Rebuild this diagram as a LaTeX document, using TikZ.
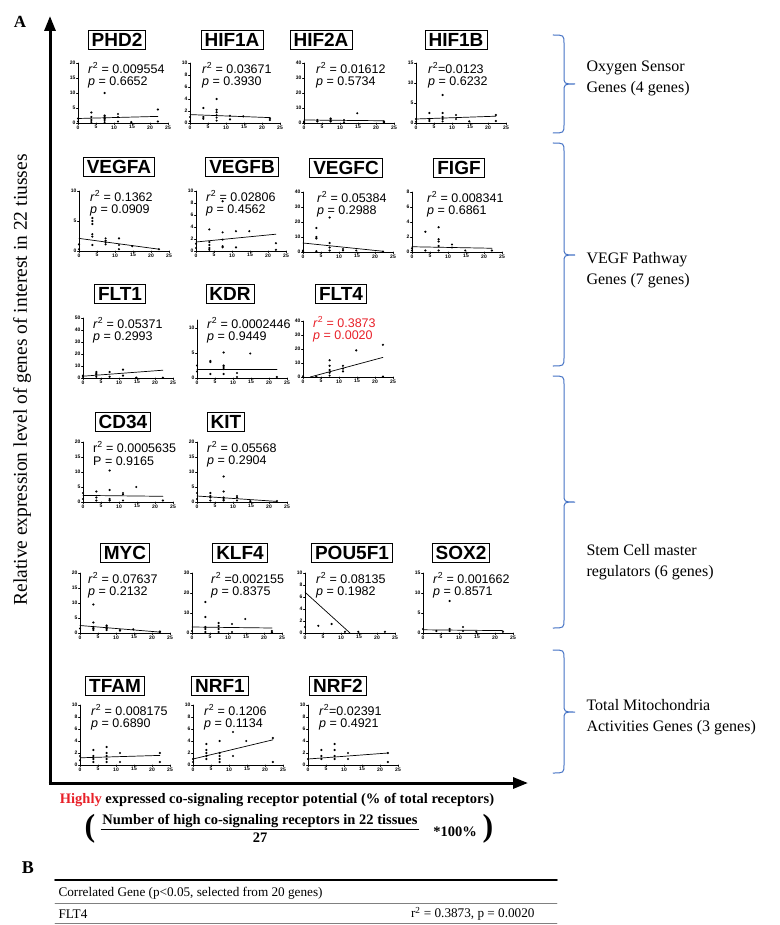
\documentclass[tikz,border=0pt]{standalone}
\usepackage{fontspec}
\setmainfont{Liberation Serif}
\newfontfamily\arial{Liberation Sans}
\usepackage{xcolor}
\definecolor{hired}{RGB}{232,32,40}
\definecolor{brblue}{RGB}{68,114,196}
\usepackage{tikz}
\usetikzlibrary{arrows.meta}

% axes of one small scatter plot: #1 top of y axis, #2 y ticks
\newcommand{\plotframe}[2]{%
  \draw[plotaxis] (0,#1) -- (0,0) -- (25,0);
  \foreach \t in {0,5,...,25} \draw[plotaxis] (\t,0) -- ++(0,-1.5pt) node[ticklab,below] (xt\t) {\t};
  \foreach \t in #2 \draw[plotaxis] (0,\t) -- ++(-1.5pt,0) node[ticklab,left] (yt\t) {\t};
}
\newcommand{\pts}[1]{\foreach \u/\v in {#1} \fill (\u,\v) circle (1.2pt);}
% curly bracket on the right: top, tip, bottom
\newcommand{\gbrace}[3]{%
  \draw[gbr] (553,#1) .. controls (564,#1) .. (564,#1+9) -- (564,#2-8)
    .. controls (564,#2) .. (575,#2) .. controls (564,#2) .. (564,#2+8)
    -- (564,#3-9) .. controls (564,#3) .. (553,#3);
}

\begin{document}
\begin{tikzpicture}[x=1pt,y=-1pt,line cap=round]
	\tikzstyle{genebox}=[draw,line width=0.8pt,inner xsep=3.5pt,inner ysep=3pt,text height=13.5pt,text depth=0pt,font=\arial\bfseries\fontsize{19}{19}\selectfont];
	\tikzstyle{stat}=[anchor=west,inner sep=0pt,font=\arial\fontsize{12.5}{14}\selectfont];
	\tikzstyle{ticklab}=[inner sep=0.6pt,font=\arial\bfseries\fontsize{5}{5}\selectfont];
	\tikzstyle{plotaxis}=[line width=0.9pt];
	\tikzstyle{fitline}=[line width=0.7pt];
	\tikzstyle{gbr}=[brblue,line width=1pt];
	\tikzstyle{bracelab}=[anchor=west,align=left,font=\fontsize{16}{21}\selectfont];
	\tikzstyle{bigaxis}=[line width=3pt,line cap=butt,-{Triangle[length=15pt,width=11pt]}];
	\tikzstyle{formula}=[font=\bfseries\fontsize{14.5}{15}\selectfont];
	\tikzstyle{tabtxt}=[font=\fontsize{13.2}{14}\selectfont];
	\useasboundingbox (0,0) rectangle (779,925);

	\node[font=\bfseries\fontsize{17}{17}\selectfont] (lblA) at (20,22) {A};
	\coordinate (orig) at (50,783);
	\coordinate (ytip) at (50,16);
	\coordinate (xtip) at (528,783);
	\draw[bigaxis] ([yshift=-1.5pt]orig) -- (ytip);
	\draw[bigaxis] ([xshift=-1.5pt]orig) -- (xtip);
	\node[rotate=90,font=\fontsize{19.5}{19.5}\selectfont] (ylab) at (22,380) {Relative expression level of genes of interest in 22 tiusses};

	% row 1: oxygen sensors
	\begin{scope}[shift={(78pt,-123pt)},x=3.6pt,y=3pt]
		\plotframe{20}{{0,5,...,20}}
		\pts{0/0.5,0/1.5,3.7/3.5,3.7/2,3.7/1,3.7/0.3,7.4/10,7.4/2.5,7.4/2,7.4/1.5,7.4/1,7.4/0.3,11.1/3,11.1/2,11.1/0.5,14.8/0.3,22.2/4.5,22.2/0.5}
		\draw[fitline] (0,1.5) -- (22.2,2.2);
	\end{scope}
	\node[genebox] (phd2) at (117,40) {PHD2};
	\node[stat] (phd2r) at (88,68) {\textit{r}\textsuperscript{2} = 0.009554};
	\node[stat] (phd2p) at (88,82) {\textit{p} = 0.6652};

	\begin{scope}[shift={(190pt,-123pt)},x=3.6pt,y=6pt]
		\plotframe{10}{{0,2,...,10}}
		\pts{0/1,0/0.3,3.7/2.5,3.7/1,3.7/0.7,7.4/4,7.4/2.2,7.4/1.8,7.4/1.3,7.4/0.9,7.4/0.4,11.1/1.2,11.1/0.6,14.8/1.1,22.2/0.8,22.2/0.5}
		\draw[fitline] (0,1.4) -- (22.2,0.9);
	\end{scope}
	\node[genebox] (hif1a) at (232,40) {HIF1A};
	\node[stat] (hif1ar) at (202,68) {\textit{r}\textsuperscript{2} = 0.03671};
	\node[stat] (hif1ap) at (202,82) {\textit{p} = 0.3930};

	\begin{scope}[shift={(304pt,-123pt)},x=3.6pt,y=1.5pt]
		\plotframe{40}{{0,10,...,40}}
		\pts{0/1,0/0.3,3.7/2,3.7/1,7.4/3,7.4/2,7.4/1,11.1/2,11.1/0.5,14.8/6.5,22.2/1,22.2/0.3}
		\draw[fitline] (0,2) -- (22.2,1.5);
	\end{scope}
	\node[genebox] (hif2a) at (321,40) {HIF2A};
	\node[stat] (hif2ar) at (316,68) {\textit{r}\textsuperscript{2} = 0.01612};
	\node[stat] (hif2ap) at (316,82) {\textit{p} = 0.5734};

	\begin{scope}[shift={(416pt,-123pt)},x=3.6pt,y=4pt]
		\plotframe{15}{{0,5,10,15}}
		\pts{0/1,0/0.3,3.7/2.5,3.7/1,3.7/0.5,7.4/7,7.4/2.5,7.4/1.5,7.4/1,7.4/0.4,11.1/2,11.1/1,14.8/0.4,22.2/2,22.2/0.5}
		\draw[fitline] (0,1) -- (22.2,1.7);
	\end{scope}
	\node[genebox] (hif1b) at (456,40) {HIF1B};
	\node[stat] (hif1br) at (428,68) {\textit{r}\textsuperscript{2}=0.0123};
	\node[stat] (hif1bp) at (428,82) {\textit{p} = 0.6232};

	% row 2: VEGF pathway
	\begin{scope}[shift={(79pt,-251pt)},x=3.6pt,y=6pt]
		\plotframe{10}{{0,5,10}}
		\pts{0/1.1,0/0.3,3.7/5.5,3.7/5,3.7/4.5,3.7/2.8,3.7/2.4,3.7/1,7.4/2.1,7.4/1.7,7.4/1.4,7.4/1.1,11.1/2.1,11.1/1,11.1/0.3,14.8/0.8,22.2/0.3}
		\draw[fitline] (0,2.1) -- (22.2,0.3);
	\end{scope}
	\node[genebox] (vegfa) at (119,167) {VEGFA};
	\node[stat] (vegfar) at (90,196) {\textit{r}\textsuperscript{2} = 0.1362};
	\node[stat] (vegfap) at (90,210) {\textit{p} = 0.0909};

	\begin{scope}[shift={(196pt,-251pt)},x=3.6pt,y=6pt]
		\plotframe{10}{{0,2,...,10}}
		\pts{0/1.2,0/0.5,3.7/3.6,3.7/1.5,3.7/1,3.7/0.5,3.7/0.2,7.4/8.3,7.4/3.1,7.4/1.9,7.4/0.8,7.4/0.6,11.1/3.3,11.1/0.6,14.8/3.3,22.2/1.3,22.2/0.2}
		\draw[fitline] (0,1.5) -- (22.2,2.8);
	\end{scope}
	\node[genebox] (vegfb) at (242,167) {VEGFB};
	\node[stat] (vegfbr) at (206,196) {\textit{r}\textsuperscript{2} = 0.02806};
	\node[stat] (vegfbp) at (206,210) {\textit{p} = 0.4562};

	\begin{scope}[shift={(303pt,-252pt)},x=3.6pt,y=1.5pt]
		\plotframe{40}{{0,10,...,40}}
		\pts{0/1,0/0.3,3.7/16,3.7/10,3.7/9,3.7/0.5,7.4/23,7.4/6,7.4/3,7.4/1,11.1/2,11.1/1,14.8/1,22.2/0.3}
		\draw[fitline] (0,6) -- (22.2,0.5);
	\end{scope}
	\node[genebox] (vegfc) at (346,168) {VEGFC};
	\node[stat] (vegfcr) at (317,197) {\textit{r}\textsuperscript{2} = 0.05384};
	\node[stat] (vegfcp) at (317,211) {\textit{p} = 0.2988};

	\begin{scope}[shift={(412pt,-252pt)},x=3.6pt,y=7.5pt]
		\plotframe{8}{{0,2,...,8}}
		\pts{0/0.5,0/0.2,3.7/2.7,3.7/0.2,7.4/3.3,7.4/1.7,7.4/1.4,7.4/0.8,7.4/0.2,11.1/1,11.1/0.6,14.8/0.2,22.2/0.2}
		\draw[fitline] (0,0.7) -- (22.2,0.5);
	\end{scope}
	\node[genebox] (figf) at (459,168) {FIGF};
	\node[stat] (figfr) at (427,197) {\textit{r}\textsuperscript{2} = 0.008341};
	\node[stat] (figfp) at (427,211) {\textit{p} = 0.6861};

	\begin{scope}[shift={(83pt,-378pt)},x=3.6pt,y=1.2pt]
		\plotframe{50}{{0,10,...,50}}
		\pts{0/2,0/1,3.7/5,3.7/4,3.7/3,3.7/1,7.4/5,7.4/1,11.1/7,11.1/2,14.8/0.3,22.2/0.3}
		\draw[fitline] (0,1.5) -- (22.2,6.5);
	\end{scope}
	\node[genebox] (flt1) at (120,294) {FLT1};
	\node[stat] (flt1r) at (93,323) {\textit{r}\textsuperscript{2} = 0.05371};
	\node[stat] (flt1p) at (93,337) {\textit{p} = 0.2993};

	\begin{scope}[shift={(197pt,-378pt)},x=3.6pt,y=5pt]
		\plotframe{11.6}{{0,5,10}}
		\pts{0/2.5,0/1.3,3.7/3.4,3.7/3.2,3.7/0.8,7.4/5.1,7.4/2.5,7.4/2.2,7.4/1.8,7.4/0.8,11.1/1,11.1/0.2,14.8/4.9,22.2/0.2}
		\draw[fitline] (0,1.8) -- (22.2,1.8);
	\end{scope}
	\node[genebox] (kdr) at (230,294) {KDR};
	\node[stat] (kdrr) at (207,323) {\textit{r}\textsuperscript{2} = 0.0002446};
	\node[stat] (kdrp) at (207,337) {\textit{p} = 0.9449};

	\begin{scope}[shift={(303pt,-377pt)},x=3.6pt,y=1.4pt]
		\plotframe{40}{{0,10,...,40}}
		\pts{0/0.5,3.7/0.3,7.4/12,7.4/8,7.4/5,7.4/3,7.4/1,11.1/8,11.1/6,11.1/4,14.8/19,22.2/23,22.2/0.3}
		\draw[fitline] (2,0) -- (22.2,14);
	\end{scope}
	\node[genebox] (flt4) at (341,294) {FLT4};
	\node[stat,hired] (flt4r) at (313,322) {\textit{r}\textsuperscript{2} = 0.3873};
	\node[stat,hired] (flt4p) at (313,336) {\textit{p} = 0.0020};

	% row 4: stem cell regulators
	\begin{scope}[shift={(83pt,-502pt)},x=3.6pt,y=3pt]
		\plotframe{20}{{0,5,...,20}}
		\pts{0/3,0/1,3.7/3.5,3.7/1.5,3.7/0.5,7.4/10.5,7.4/4,7.4/1,7.4/0.5,11.1/3,11.1/2.5,11.1/0.5,14.8/5,22.2/0.5}
		\draw[fitline] (0,2.2) -- (22.2,1.9);
	\end{scope}
	\node[genebox] (cd34) at (123,422) {CD34};
	\node[stat] (cd34r) at (93,447) {r\textsuperscript{2} = 0.0005635};
	\node[stat] (cd34p) at (93,461) {P = 0.9165};

	\begin{scope}[shift={(197pt,-502pt)},x=3.6pt,y=3pt]
		\plotframe{20}{{0,5,...,20}}
		\pts{0/3,0/1,3.7/3,3.7/2,3.7/1.5,3.7/0.5,7.4/8.5,7.4/3.5,7.4/1.5,7.4/1,7.4/0.5,11.1/2,11.1/1.5,11.1/0.5,14.8/0.3,22.2/0.3}
		\draw[fitline] (0,2) -- (22.2,0.2);
	\end{scope}
	\node[genebox] (kit) at (226,422) {KIT};
	\node[stat] (kitr) at (207,447) {\textit{r}\textsuperscript{2} = 0.05568};
	\node[stat] (kitp) at (207,461) {\textit{p} = 0.2904};

	\begin{scope}[shift={(80pt,-633pt)},x=3.6pt,y=3pt]
		\plotframe{20}{{0,5,...,20}}
		\pts{0/1.5,3.7/9.5,3.7/3.5,3.7/2,3.7/1.5,3.7/1,7.4/2.5,7.4/2,7.4/1.5,7.4/1,11.1/1,11.1/0.8,14.8/1.2,22.2/0.5,22.2/0.3}
		\draw[fitline] (0,2.5) -- (22.2,0.3);
	\end{scope}
	\node[genebox] (myc) at (125,553) {MYC};
	\node[stat] (mycr) at (88,578) {\textit{r}\textsuperscript{2} = 0.07637};
	\node[stat] (mycp) at (88,592) {\textit{p} = 0.2132};

	\begin{scope}[shift={(192pt,-633pt)},x=3.6pt,y=2pt]
		\plotframe{30}{{0,10,20,30}}
		\pts{0/1,3.7/15.5,3.7/8,3.7/3,3.7/2,3.7/0.5,7.4/5,7.4/3.5,7.4/2,7.4/0.5,11.1/4.5,11.1/0.5,14.8/7,22.2/1,22.2/0.3}
		\draw[fitline] (0,3) -- (22.2,2.5);
	\end{scope}
	\node[genebox] (klf4) at (240,553) {KLF4};
	\node[stat] (klf4r) at (211,578) {\textit{r}\textsuperscript{2} =0.002155};
	\node[stat] (klf4p) at (211,592) {\textit{p} = 0.8375};

	\begin{scope}[shift={(305pt,-633pt)},x=3.6pt,y=6pt]
		\plotframe{10}{{0,2,...,10}}
		\pts{0/1,3.7/1.2,7.4/1.5,11.1/0.2,14.8/0.2,22.2/0.2}
		\draw[fitline] (0,6.8) -- (12.5,0);
	\end{scope}
	\node[genebox] (pou5f1) at (352,553) {POU5F1};
	\node[stat] (pou5f1r) at (316,578) {\textit{r}\textsuperscript{2} = 0.08135};
	\node[stat] (pou5f1p) at (316,592) {\textit{p} = 0.1982};

	\begin{scope}[shift={(423pt,-633pt)},x=3.6pt,y=4pt]
		\plotframe{15}{{0,5,10,15}}
		\pts{0/1,3.7/0.5,7.4/8,7.4/1,7.4/0.5,11.1/1.5,11.1/0.5,14.8/0.3,22.2/0.3}
		\draw[fitline] (0,0.8) -- (22.2,0.6);
	\end{scope}
	\node[genebox] (sox2) at (461,553) {SOX2};
	\node[stat] (sox2r) at (433,578) {\textit{r}\textsuperscript{2} = 0.001662};
	\node[stat] (sox2p) at (433,592) {\textit{p} = 0.8571};

	% row 6: mitochondria
	\begin{scope}[shift={(80pt,-765pt)},x=3.6pt,y=6pt]
		\plotframe{10}{{0,2,...,10}}
		\pts{0/1.5,0/0.8,3.7/2.5,3.7/1.5,3.7/1,3.7/0.5,7.4/3,7.4/2,7.4/1.5,7.4/1,7.4/0.5,11.1/2,11.1/0.5,22.2/2,22.2/0.5}
		\draw[fitline] (0,1.2) -- (22.2,1.6);
	\end{scope}
	\node[genebox] (tfam) at (115,686) {TFAM};
	\node[stat] (tfamr) at (91,710) {\textit{r}\textsuperscript{2} = 0.008175};
	\node[stat] (tfamp) at (91,724) {\textit{p} = 0.6890};

	\begin{scope}[shift={(193pt,-765pt)},x=3.6pt,y=6pt]
		\plotframe{10}{{0,2,...,10}}
		\pts{0/1,0/0.5,3.7/3.5,3.7/2.5,3.7/2,3.7/1.5,3.7/1,7.4/4,7.4/2,7.4/1.5,7.4/1,7.4/0.5,11.1/5.5,11.1/1.5,14.8/4,22.2/4.5,22.2/0.5}
		\draw[fitline] (0,1) -- (22.2,4.2);
	\end{scope}
	\node[genebox] (nrf1) at (220,686) {NRF1};
	\node[stat] (nrf1r) at (204,710) {\textit{r}\textsuperscript{2} = 0.1206};
	\node[stat] (nrf1p) at (204,724) {\textit{p} = 0.1134};

	\begin{scope}[shift={(308pt,-765pt)},x=3.6pt,y=6pt]
		\plotframe{10}{{0,2,...,10}}
		\pts{0/1,3.7/2.5,3.7/1.5,3.7/1,7.4/3.5,7.4/2.5,7.4/1.5,7.4/1,11.1/2,11.1/1,22.2/2,22.2/0.5}
		\draw[fitline] (0,1) -- (22.2,2);
	\end{scope}
	\node[genebox] (nrf2) at (338,686) {NRF2};
	\node[stat] (nrf2r) at (319,710) {\textit{r}\textsuperscript{2}=0.02391};
	\node[stat] (nrf2p) at (319,724) {\textit{p} = 0.4921};

	% gene groups
	\gbrace{35}{84}{133}
	\gbrace{143}{255}{366}
	\gbrace{376}{502}{628}
	\gbrace{650}{712}{773}
	\node[bracelab] (oxy) at (583,78) {Oxygen Sensor\\Genes (4 genes)};
	\node[bracelab] (vegf) at (583,270) {VEGF Pathway\\Genes (7 genes)};
	\node[bracelab] (stem) at (583,562) {Stem Cell master\\regulators (6 genes)};
	\node[bracelab] (mito) at (583,717) {Total Mitochondria\\Activities Genes (3 genes)};

	% x axis title
	\node[formula] (xlab) at (277,800) {\textcolor{hired}{Highly} expressed co-signaling receptor potential (\% of total receptors)};
	\node[formula,inner sep=1pt] (num) at (260,821) {Number of high co-signaling receptors in 22 tissues};
	\draw[line width=0.8pt] (num.south west) -- (num.south east);
	\node[formula] (den) at (260,838) {27};
	\node[formula] (pct) at (455,832) {*100\%};
	\node[font=\bfseries\fontsize{32}{32}\selectfont] (lpar) at (90,829) {(};
	\node[font=\bfseries\fontsize{32}{32}\selectfont] (rpar) at (488,829) {)};

	% panel B
	\node[font=\bfseries\fontsize{18}{18}\selectfont] (lblB) at (28,868) {B};
	\draw[line width=1.6pt] (55,880) -- (557,880);
	\draw[gray,line width=0.6pt] (55,903) -- (557,903);
	\draw[gray,line width=0.6pt] (55,923.5) -- (557,923.5);
	\node[tabtxt,anchor=west] (hdr) at (55,893) {Correlated Gene (p<0.05, selected from 20 genes)};
	\node[tabtxt,anchor=west] (rowgene) at (55,914) {FLT4};
	\node[tabtxt,anchor=east] (rowstat) at (538,914) {r\textsuperscript{2} = 0.3873, p = 0.0020};
\end{tikzpicture}
\end{document}
